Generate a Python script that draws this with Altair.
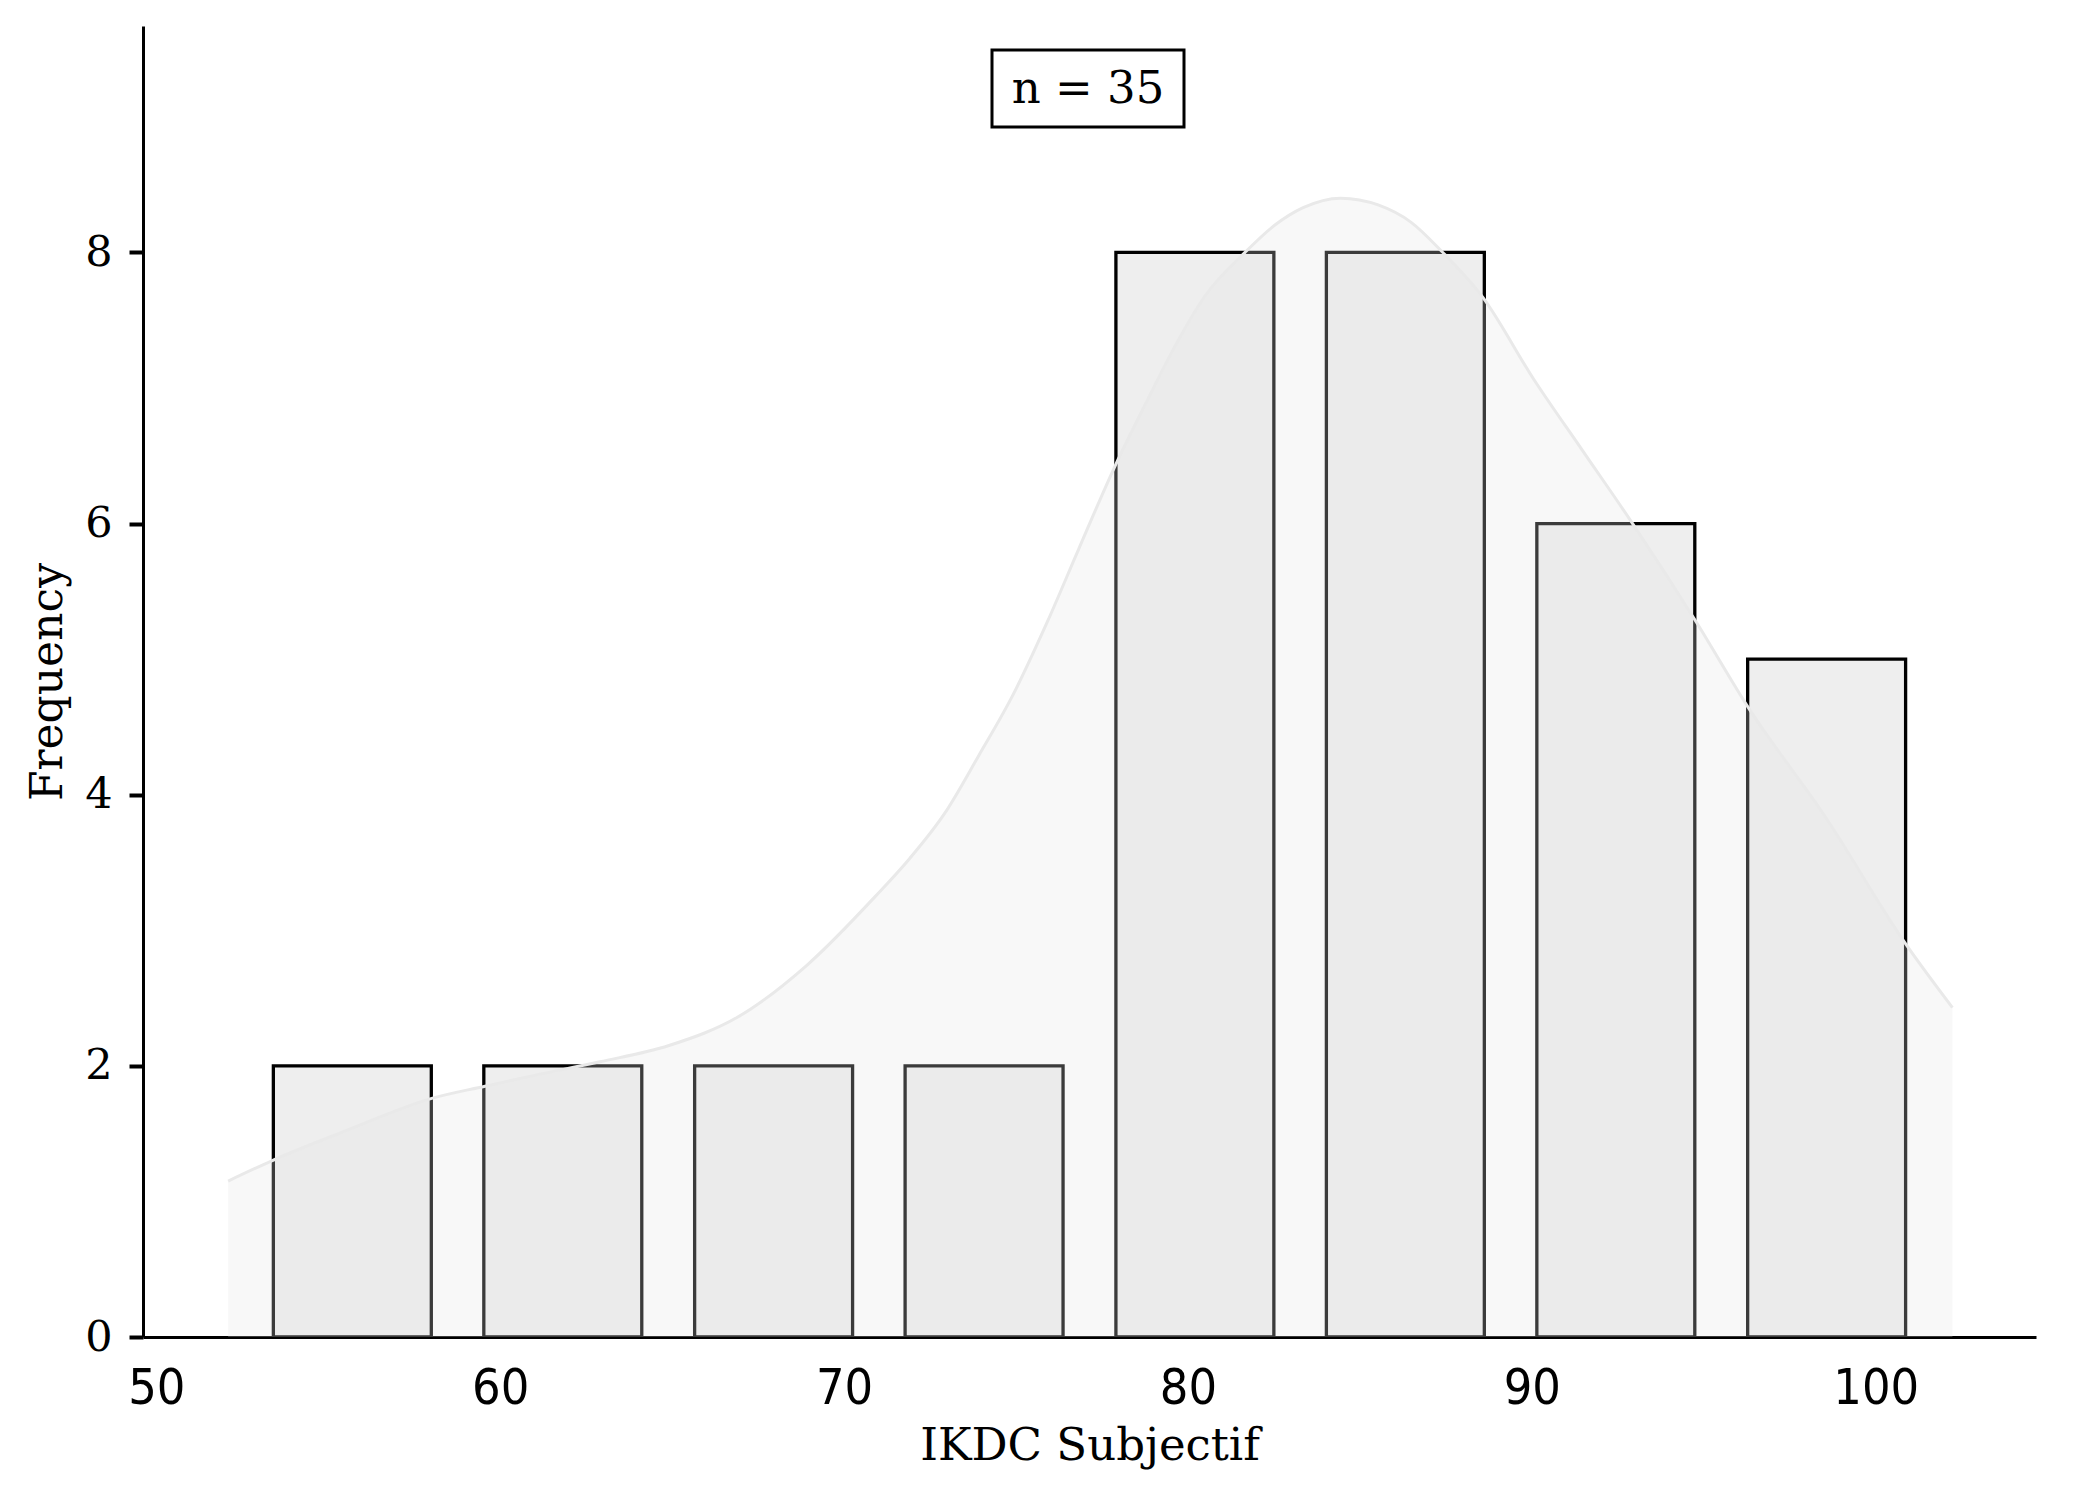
import altair as alt
import pandas as pd

# ---- data ----
bin_starts = [52.64, 58.76, 64.89, 71.01, 77.14, 83.26, 89.38, 95.51]
bin_width = 6.124
counts = [2, 2, 2, 2, 8, 8, 6, 5]

kde_x = [52.09, 53.36, 55.5, 58.01, 59.56, 61.0, 62.90, 64.91, 66.91, 68.91,
         70.91, 71.91, 72.92, 73.92, 74.92, 75.92, 76.82, 77.89, 78.84, 79.5,
         80.5, 81.66, 82.52, 83.35, 84.44, 85.53, 86.5, 87.37, 88.57, 90.04,
         91.47, 92.93, 94.79, 96.30, 98.5, 100.87, 102.23]
kde_y = [1.15, 1.30, 1.52, 1.76, 1.85, 1.93, 2.03, 2.15, 2.36, 2.74,
         3.25, 3.53, 3.86, 4.29, 4.74, 5.28, 5.81, 6.43, 6.92, 7.25,
         7.68, 8.00, 8.20, 8.33, 8.40, 8.35, 8.22, 8.01, 7.67, 7.07,
         6.54, 6.00, 5.27, 4.64, 3.85, 2.90, 2.43]

x_ticks = [50, 60, 70, 80, 90, 100]
y_ticks = [0, 2, 4, 6, 8]
x_domain = [49.615, 104.66]
y_domain = [0, 9.67]
n_label = "n = 35"
x_title = "IKDC Subjectif"
y_title = "Frequency"

rwidth = 0.75
bars = pd.DataFrame({"start": bin_starts, "count": counts})
bars["x0"] = bars["start"] + bin_width * (1 - rwidth) / 2
bars["x1"] = bars["start"] + bin_width * (1 + rwidth) / 2
kde = pd.DataFrame({"x0": kde_x, "count": kde_y})
one = pd.DataFrame({"k": [0]})

W, H = 1893, 1311
xs = alt.Scale(domain=x_domain, nice=False, zero=False)
ys = alt.Scale(domain=y_domain, nice=False, zero=False)

sans_narrow = "'Liberation Sans Narrow', 'DejaVu Sans Condensed', 'Roboto Condensed', 'Liberation Sans', sans-serif"

x_axis = alt.Axis(values=x_ticks, format="d", title=x_title)
y_axis = alt.Axis(values=y_ticks, format="d", title=y_title)

bar_layer = alt.Chart(bars).mark_rect(fill="#eeeeee", stroke="black", strokeWidth=3.3).encode(
    x=alt.X("x0:Q", scale=xs, axis=x_axis),
    x2="x1:Q",
    y=alt.Y("count:Q", scale=ys, axis=y_axis),
    y2=alt.datum(0),
)

area_layer = alt.Chart(kde).mark_area(fill="#e4e4e4", fillOpacity=0.26,
                                      interpolate="monotone").encode(
    x=alt.X("x0:Q", scale=xs),
    y=alt.Y("count:Q", scale=ys),
)
line_layer = alt.Chart(kde).mark_line(color="#e9e9e9", strokeWidth=3,
                                      interpolate="monotone").encode(
    x=alt.X("x0:Q", scale=xs),
    y=alt.Y("count:Q", scale=ys),
)

box = alt.Chart(one).mark_rect(fill="white", stroke="black", strokeWidth=3).encode(
    x=alt.value(849), x2=alt.value(1041), y=alt.value(24), y2=alt.value(101)
)
label = alt.Chart(one).mark_text(font="DejaVu Serif", fontSize=45, align="center",
                                 baseline="middle", color="black").encode(
    x=alt.value(945), y=alt.value(63), text=alt.value(n_label)
)

chart = alt.layer(bar_layer, area_layer, line_layer, box, label).properties(
    width=W, height=H,
    autosize=alt.AutoSizeParams(type="none"),
    padding={"left": 135, "top": 18, "right": 30, "bottom": 150},
    background="white",
).configure_view(
    stroke=None
).configure_axis(
    grid=False, domainColor="black", domainWidth=3,
    titleFont="DejaVu Serif", titleFontWeight="normal", titleColor="black",
    labelColor="black", labelFlush=False,
).configure_axisX(
    ticks=False, tickSize=0, labelFont=sans_narrow, labelFontSize=50,
    labelPadding=26, titleFontSize=45, titlePadding=10,
).configure_axisY(
    ticks=True, tickSize=14, tickWidth=4, tickColor="#000000", tickOpacity=1,
    tickCap="butt",
    labelFont="DejaVu Serif", labelFontSize=43, labelPadding=17,
    titleFontSize=44, titlePadding=14,
)

chart.save("out.html", embed_options={"renderer": "svg", "actions": False})
